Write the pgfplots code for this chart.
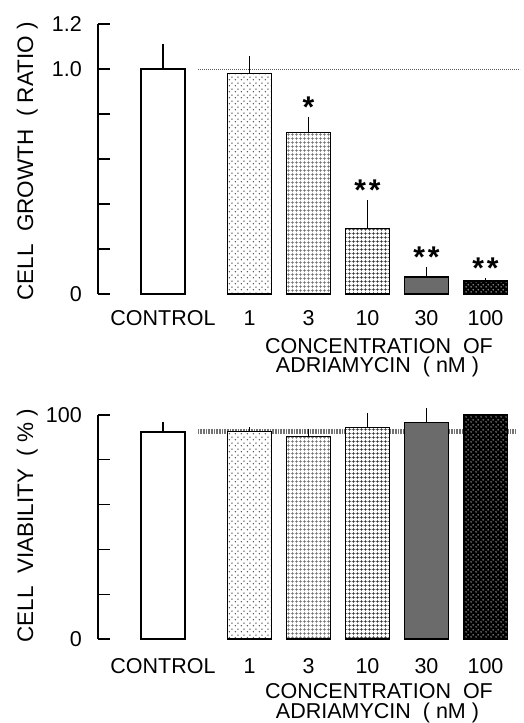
\documentclass[border=0pt]{standalone}
\usepackage{fontspec}
\setmainfont{Liberation Sans}
\usepackage{pgfplots}
\pgfplotsset{compat=1.18}
\usetikzlibrary{patterns.meta}

\pgfdeclarepattern{name=sparsedots, type=uncolored,
  bottom left={\pgfpoint{0pt}{0pt}}, top right={\pgfpoint{6pt}{6pt}},
  tile size={\pgfpoint{6pt}{6pt}},
  code={\pgfpathcircle{\pgfpoint{1.5pt}{1.5pt}}{0.85pt}\pgfpathcircle{\pgfpoint{4.5pt}{4.5pt}}{0.85pt}\pgfusepath{fill}}}
\pgfdeclarepattern{name=densedots, type=uncolored,
  bottom left={\pgfpoint{0pt}{0pt}}, top right={\pgfpoint{5pt}{5pt}},
  tile size={\pgfpoint{5pt}{5pt}},
  code={\pgfpathcircle{\pgfpoint{1.25pt}{1.25pt}}{1pt}\pgfpathcircle{\pgfpoint{3.75pt}{3.75pt}}{1pt}\pgfusepath{fill}}}
\pgfdeclarepattern{name=finegrid, type=uncolored,
  bottom left={\pgfpoint{0pt}{0pt}}, top right={\pgfpoint{3.5pt}{3.5pt}},
  tile size={\pgfpoint{3.5pt}{3.5pt}},
  code={\pgfsetlinewidth{0.6pt}\pgfpathmoveto{\pgfpoint{0pt}{1.75pt}}\pgfpathlineto{\pgfpoint{3.5pt}{1.75pt}}\pgfpathmoveto{\pgfpoint{1.75pt}{0pt}}\pgfpathlineto{\pgfpoint{1.75pt}{3.5pt}}\pgfusepath{stroke}}}
\pgfdeclarepattern{name=grid4, type=uncolored,
  bottom left={\pgfpoint{0pt}{0pt}}, top right={\pgfpoint{4pt}{4pt}},
  tile size={\pgfpoint{4pt}{4pt}},
  code={\pgfsetlinewidth{0.8pt}\pgfpathmoveto{\pgfpoint{0pt}{2pt}}\pgfpathlineto{\pgfpoint{4pt}{2pt}}\pgfpathmoveto{\pgfpoint{2pt}{0pt}}\pgfpathlineto{\pgfpoint{2pt}{4pt}}\pgfusepath{stroke}}}

\pgfplotsset{
  barbase/.style={ybar, bar width=44pt, bar shift=0pt, draw=black, line width=1.5pt,
    error bars/y dir=plus, error bars/y explicit, error bars/error mark=none,
    error bars/error bar style={line width=1.1pt, black}},
  panel/.style={scale only axis, width=422pt,
    xmin=-2.568, xmax=4.585, clip=false,
    axis y line*=left, axis x line*=bottom,
    x axis line style={draw=none}, xtick style={draw=none},
    y axis line style={line width=1.3pt, -},
    ytick style={line width=1.3pt, black},
    tick align=inside, major tick length=12pt,
    xtick={-1.466,0,1,2,3,4},
    xticklabels={CONTROL,1,3,10,30,100},
    every tick label/.append style={font=\fontsize{21.5}{24}\selectfont},
    yticklabel style={anchor=east, inner sep=0pt, xshift=-16pt},
  },
  stars/.style={draw=none, mark=none, nodes near coords, point meta=explicit symbolic,
    nodes near coords style={font=\fontsize{30}{30}\selectfont\bfseries, anchor=base, inner sep=0pt, yshift=-1pt}},
}
\newcommand{\lblfont}{\fontsize{21.5}{24}\selectfont}

\begin{document}
\begin{tikzpicture}
\useasboundingbox (0,0) rectangle (523pt,-723pt);
% ---------- top panel ----------
\begin{axis}[panel, at={(98pt,-294pt)}, anchor=south west, height=270pt,
  ymin=0, ymax=1.2, ytick={0,0.2,0.4,0.6,0.8,1.0,1.2}, yticklabels={0,,,,,1.0,1.2},
  xticklabel style={anchor=base, yshift=-31pt}]
\addplot[black!65, line width=1pt, dash pattern=on 1pt off 1pt] coordinates {(-0.873,1) (4.585,1)};
\addplot[barbase, fill=white] coordinates {(-1.466,1.0) +- (0,0.111)};
\addplot[barbase, fill=white, postaction={pattern=sparsedots, pattern color=black!70}] coordinates {(0,0.981) +- (0,0.077)};
\addplot[barbase, fill=white, postaction={pattern=finegrid, pattern color=black!60}] coordinates {(1,0.717) +- (0,0.071)};
\addplot[barbase, fill=white, postaction={pattern=grid4, pattern color=black!85}] coordinates {(2,0.292) +- (0,0.126)};
\addplot[barbase, fill=black!58] coordinates {(3,0.0756) +- (0,0.045)};
\addplot[barbase, fill=black, postaction={pattern=densedots, pattern color=black!45}] coordinates {(4,0.058) +- (0,0.014)};
\addplot[stars] coordinates {(1,0.788) [*] (2,0.418) [*\kern3pt*] (3,0.121) [*\kern3pt*] (4,0.072) [*\kern3pt*]};
\end{axis}
% ---------- bottom panel ----------
\begin{axis}[panel, at={(98pt,-639pt)}, anchor=south west, height=224pt,
  ymin=0, ymax=100, ytick={0,20,40,60,80,100}, yticklabels={0,,,,,100},
  xticklabel style={anchor=base, yshift=-34pt}]
\addplot[black!55, line width=5pt, dash pattern=on 0.9pt off 0.7pt] coordinates {(-0.873,92.5) (4.5,92.5)};
\addplot[barbase, fill=white] coordinates {(-1.466,92.5) +- (0,4.5)};
\addplot[barbase, fill=white, postaction={pattern=sparsedots, pattern color=black!70}] coordinates {(0,92.7) +- (0,1.8)};
\addplot[barbase, fill=white, postaction={pattern=finegrid, pattern color=black!60}] coordinates {(1,90.3) +- (0,3.6)};
\addplot[barbase, fill=white, postaction={pattern=grid4, pattern color=black!85}] coordinates {(2,94.5) +- (0,6.5)};
\addplot[barbase, fill=black!58] coordinates {(3,96.7) +- (0,6.3)};
\addplot[barbase, fill=black, postaction={pattern=densedots, pattern color=black!45}] coordinates {(4,100) +- (0,0)};
\end{axis}
% ---------- axis titles ----------
\node[rotate=90, anchor=base, inner sep=0pt, font=\fontsize{22.5}{24}\selectfont] at (33pt,-161.5pt) {CELL\ \ GROWTH\ \ (\ RATIO\ )};
\node[rotate=90, anchor=base, inner sep=0pt, font=\fontsize{22.5}{24}\selectfont] at (33pt,-525.5pt) {CELL\ \ VIABILITY\ \ (\ \%\ )};
\node[anchor=base, inner sep=0pt, font=\lblfont] at (379pt,-353pt) {CONCENTRATION\ \ OF};
\node[anchor=base, inner sep=0pt, font=\lblfont] at (377.5pt,-372.5pt) {ADRIAMYCIN\ \ (\ nM\ )};
\node[anchor=base, inner sep=0pt, font=\lblfont] at (379pt,-698.5pt) {CONCENTRATION\ \ OF};
\node[anchor=base, inner sep=0pt, font=\lblfont] at (377.5pt,-718pt) {ADRIAMYCIN\ \ (\ nM\ )};
\end{tikzpicture}
\end{document}
